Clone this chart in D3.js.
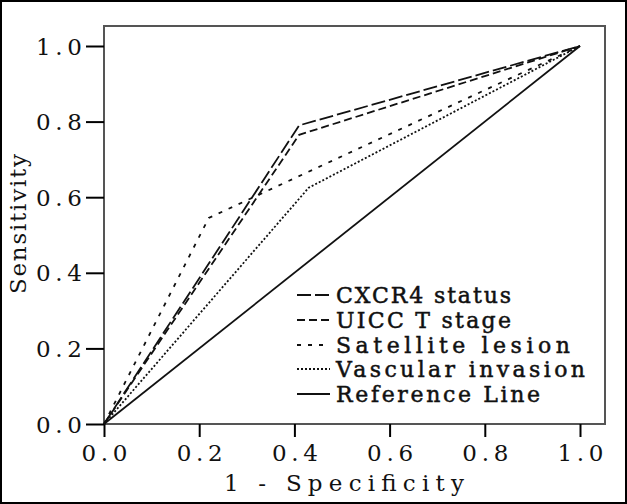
<!DOCTYPE html>
<html><head><meta charset="utf-8">
<script src="https://cdn.jsdelivr.net/npm/d3@7"></script>
<style>body{margin:0;background:#fff}svg{display:block}</style>
</head><body>
<svg id="c" width="627" height="504"></svg>
<script>
const seriesNames = ["CXCR4 status","UICC T stage","Satellite lesion","Vascular invasion","Reference Line"];
const cxcr4FPR = [0, 0.41, 1];
const cxcr4TPR = [0, 0.79, 1];
const uiccFPR = [0, 0.41, 1];
const uiccTPR = [0, 0.765, 1];
const satFPR = [0, 0.22, 1];
const satTPR = [0, 0.545, 1];
const vascFPR = [0, 0.43, 1];
const vascTPR = [0, 0.625, 1];
const refFPR = [0, 1];
const refTPR = [0, 1];
const xTicks = [0, 0.2, 0.4, 0.6, 0.8, 1.0];
const yTicks = [0, 0.2, 0.4, 0.6, 0.8, 1.0];
const xTickLabels = ["0.0","0.2","0.4","0.6","0.8","1.0"];
const yTickLabels = ["0.0","0.2","0.4","0.6","0.8","1.0"];
const dashes = ["14,4","8,4","4,7","2,2",null];

const FONT = "'DejaVu Serif', 'Liberation Serif', serif";
const svg = d3.select("#c");
// outer border
svg.append("rect").attr("x",1).attr("y",1).attr("width",625).attr("height",502)
  .attr("fill","#fff").attr("stroke","#000").attr("stroke-width",2);

const x = d3.scaleLinear().domain([0,1]).range([104,580]);
const y = d3.scaleLinear().domain([0,1]).range([424,46]);

// plot frame
svg.append("rect").attr("x",104).attr("y",26).attr("width",501).attr("height",398)
  .attr("fill","none").attr("stroke","#555").attr("stroke-width",2);

// axes
const xAxis = d3.axisBottom(x).tickValues(xTicks).tickSize(13).tickFormat((d,i)=>xTickLabels[i]);
const gx = svg.append("g").attr("transform","translate(0,424)").call(xAxis);
gx.select(".domain").remove();
gx.selectAll(".tick line").attr("stroke","#000").attr("stroke-width",2);
gx.selectAll(".tick text").attr("y",37).attr("dy",0).attr("font-family",FONT).attr("font-size",23)
  .attr("fill","#111").attr("textLength",46).attr("lengthAdjust","spacing");

const yAxis = d3.axisLeft(y).tickValues(yTicks).tickSize(18).tickFormat((d,i)=>yTickLabels[i]);
const gy = svg.append("g").attr("transform","translate(104,0)").call(yAxis);
gy.select(".domain").remove();
gy.selectAll(".tick line").attr("stroke","#000").attr("stroke-width",2);
gy.selectAll(".tick text").attr("x",-22).attr("dy","0.35em").attr("font-family",FONT).attr("font-size",23)
  .attr("fill","#111").attr("textLength",46).attr("lengthAdjust","spacing");

// axis titles
svg.append("text").attr("x",224).attr("y",491).attr("font-family",FONT).attr("font-size",23)
  .attr("fill","#111").attr("textLength",240).attr("lengthAdjust","spacing").text("1 - Specificity");
svg.append("text").attr("transform","translate(26,224) rotate(-90)").attr("text-anchor","middle")
  .attr("font-family",FONT).attr("font-size",23).attr("fill","#111")
  .attr("textLength",140).attr("lengthAdjust","spacing").text("Sensitivity");

// series
const series = [
  [cxcr4FPR,cxcr4TPR],[uiccFPR,uiccTPR],[satFPR,satTPR],[vascFPR,vascTPR],[refFPR,refTPR]
];
const line = d3.line().x(d=>x(d[0])).y(d=>y(d[1]));
series.forEach((s,i)=>{
  const pts = s[0].map((v,j)=>[v,s[1][j]]);
  const p = svg.append("path").attr("d",line(pts)).attr("fill","none")
    .attr("stroke","#111").attr("stroke-width",1.8);
  if (dashes[i]) p.attr("stroke-dasharray",dashes[i]);
});

// legend
const legY = [295,320,345,369,394];
const legW = [175,175,234,249,204];
series.forEach((s,i)=>{
  const l = svg.append("line").attr("x1",297).attr("x2",330).attr("y1",legY[i]).attr("y2",legY[i])
    .attr("stroke","#111").attr("stroke-width",2);
  if (dashes[i]) l.attr("stroke-dasharray",dashes[i]);
  svg.append("text").attr("x",336).attr("y",legY[i]).attr("dy","0.36em")
    .attr("font-family",FONT).attr("font-size",22).attr("fill","#111")
    .attr("stroke","#111").attr("stroke-width",0.5)
    .attr("textLength",legW[i]).attr("lengthAdjust","spacing").text(seriesNames[i]);
});
</script>
</body></html>
